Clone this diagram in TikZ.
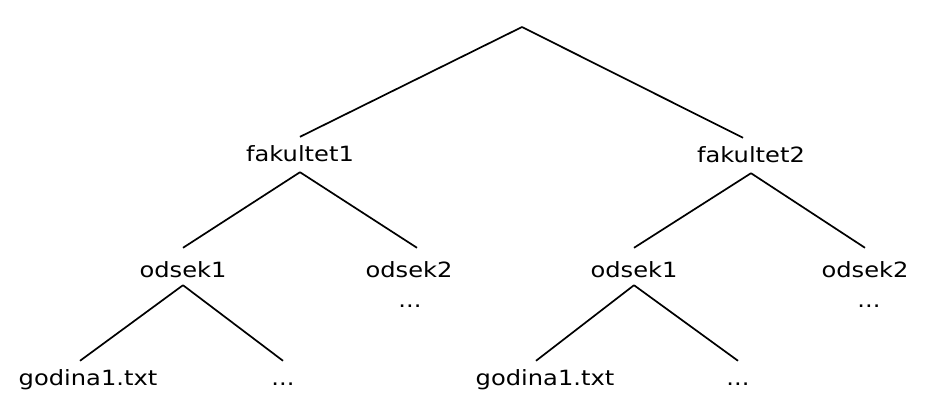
\documentclass[tikz,border=0pt]{standalone}
\usepackage{fontspec}
\setmainfont{DejaVu Sans}[FakeStretch=1.15]
\begin{document}
\begin{tikzpicture}[x=1pt,y=-1pt,
  lbl/.style={inner sep=0pt, anchor=base, font=\fontsize{21}{25}\selectfont},
  lvlA/.style={lbl, text height=24pt, text depth=11pt},
  lvlB/.style={lbl, text height=29pt, text depth=8pt},
  lvlC/.style={lbl, text height=24pt, text depth=4pt},
  conn/.style={line width=1.7pt}]
\useasboundingbox (0,0) rectangle (926,404);
\coordinate (root) at (522,27);
\node[lvlA] (f1) at (300,161) {fakultet1};
\node[lvlA] (f2) at (751,162) {fakultet2};
\node[lvlB] (o1) at (183,277) {odsek1};
\node[lvlB] (o2) at (409,277) {odsek2};
\node[lbl] (o2d) at (410,307) {...};
\node[lvlB] (r1) at (634,277) {odsek1};
\node[lvlB] (r2) at (865,277) {odsek2};
\node[lbl] (r2d) at (869,307) {...};
\node[lvlC] (g1) at (88,385) {godina1.txt};
\node[lvlC] (d1) at (283,385) {...};
\node[lvlC] (g2) at (545,385) {godina1.txt};
\node[lvlC] (d2) at (738,385) {...};
\draw[conn] (root) -- (f1.north);
\draw[conn] (root) -- ([xshift=-8pt]f2.north);
\draw[conn] (f1.south) -- (o1.north);
\draw[conn] (f1.south) -- ([xshift=8pt]o2.north);
\draw[conn] (f2.south) -- (r1.north);
\draw[conn] (f2.south) -- (r2.north);
\draw[conn] (o1.south) -- ([xshift=-8pt]g1.north);
\draw[conn] (o1.south) -- (d1.north);
\draw[conn] (r1.south) -- ([xshift=-9pt]g2.north);
\draw[conn] (r1.south) -- (d2.north);
\end{tikzpicture}
\end{document}
